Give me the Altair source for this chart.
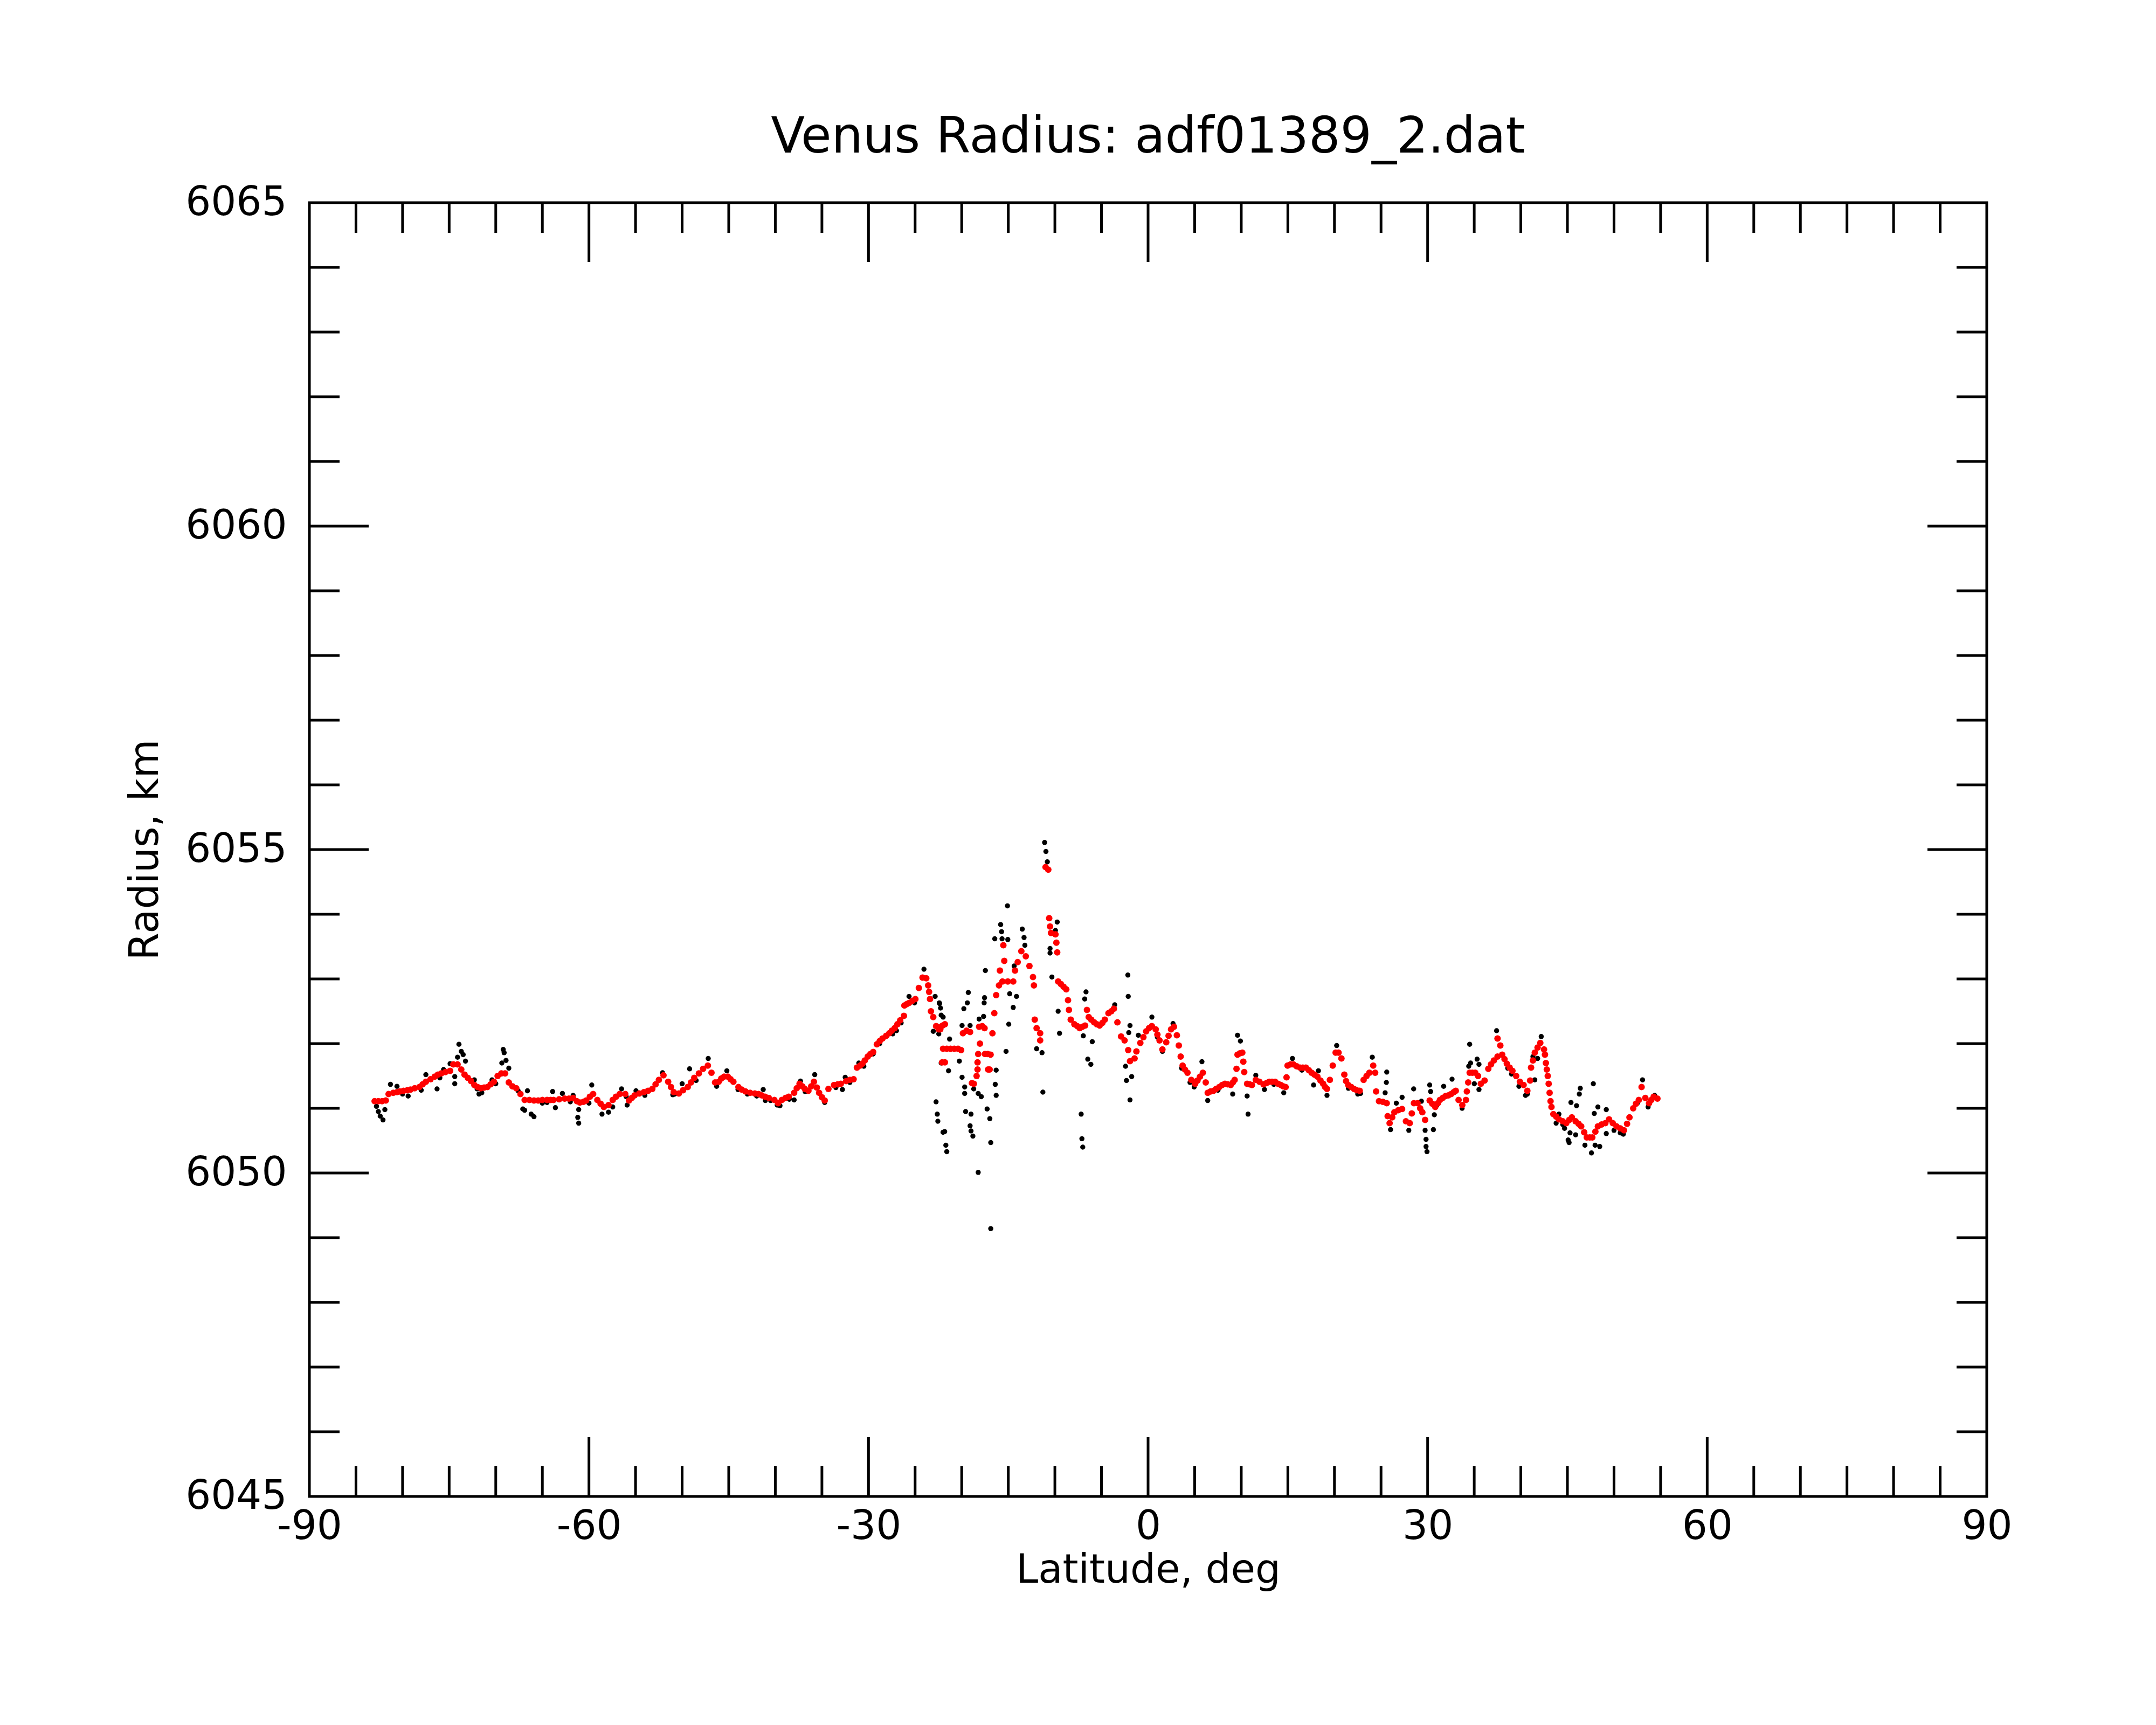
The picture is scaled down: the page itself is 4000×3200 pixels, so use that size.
import altair as alt
import pandas as pd

# ---------------- data ----------------
red_lat = [
    -83.0, -82.6, -82.2, -81.8, -81.5, -81.0, -80.6, -80.3, -79.9, -79.5, -79.15, -78.7, -78.2, -77.85,
    -77.5, -77.0, -76.55, -76.2, -75.85, -75.4, -74.9, -74.55, -74.1, -73.7, -73.35, -73.0, -72.65, -72.3,
    -71.95, -71.6, -71.25, -70.9, -70.55, -70.2, -69.8, -69.4, -69.0, -68.6, -68.2, -67.8, -67.35, -66.9,
    -66.4, -65.9, -65.45, -65.0, -64.5, -64.1, -63.8, -63.2, -62.6, -62.15, -61.7, -61.3, -60.97, -60.6,
    -60.3, -59.9, -59.55, -59.1, -58.75, -58.4, -57.9, -57.45, -57.1, -56.7, -56.1, -55.7, -55.4, -55.1,
    -54.6, -54.1, -53.65, -53.2, -52.85, -52.5, -52.0, -51.5, -51.2, -50.9, -50.35, -49.9, -49.4, -49.05,
    -48.7, -48.2, -47.75, -47.24,
    -46.85, -46.47, -46.08, -45.8, -45.5, -45.1, -44.8, -44.5, -43.96, -43.6, -43.19, -42.7, -42.2, -41.8,
    -41.45, -41.1, -40.7, -40.1, -39.7, -39.3, -38.9, -38.56, -37.98, -37.7, -37.4, -37.1, -36.83, -36.45,
    -36.15, -35.86, -35.55, -35.3, -35.0, -34.7, -34.3, -33.7, -33.3, -32.97, -32.4, -32.0, -31.6, -31.24,
    -30.9, -30.66, -30.4, -30.08, -29.8, -29.5, -29.1, -28.8, -28.5, -28.1, -27.77, -27.5, -27.19, -26.9,
    -26.6, -26.2, -26.15, -25.9, -25.65, -25.3, -24.97, -24.6, -24.2, -23.8, -23.6, -23.5, -23.4, -23.3,
    -23.05, -22.75, -22.46,
    -22.6, -22.3, -22.05, -21.8, -22.1, -21.8, -22.0, -21.6, -21.2, -20.8, -20.4, -20.06, -19.87, -19.48,
    -19.1, -18.13, -17.8, -17.55, -18.04, -18.23, -18.3, -18.3, -18.4, -18.9, -18.7, -17.5, -17.2, -16.9,
    -17.17, -17.0, -16.7, -16.5, -16.3, -16.0, -15.63, -15.9, -15.43, -15.53, -15.05, -14.47, -14.28, -13.99,
    -13.6, -13.12, -12.73, -12.35, -12.25, -12.16, -11.96, -11.58, -11.58, -11.0, -10.71, -10.61, -10.52, -10.42,
    -9.94, -9.84, -9.75, -9.65, -9.35, -9.07, -8.78, -8.59, -8.49, -8.3, -7.91, -7.6, -7.34, -7.05,
    -6.76, -6.56, -6.37, -6.1, -5.79, -5.5, -5.2, -4.9, -4.64, -4.25, -3.95, -3.67, -3.29, -2.9,
    -2.52, -2.13, -1.94, -1.45, -1.25, -0.83, -0.5, -0.21, 0.1, 0.41, 0.82, 1.0, 1.23, 1.54,
    1.95, 2.2, 2.47, 2.78, 3.09, 3.3, 3.5, 3.71, 3.95, 4.23, 4.64, 5.05, 5.3, 5.57,
    5.88, 6.19, 6.4, 6.7, 7.02, 7.3, 7.64, 7.95, 8.25, 8.55, 8.87, 9.1, 9.29, 9.49,
    9.6, 9.85, 10.11, 10.22, 10.32, 10.63, 10.9, 11.15, 11.56, 11.95, 12.39, 12.7, 13.0, 13.3,
    13.63, 13.95, 14.25, 14.5, 14.76, 14.86, 14.97, 15.3, 15.59, 15.95, 16.31, 16.6, 16.93, 17.25,
    17.55, 17.85, 18.17, 18.5, 18.79, 19.0, 19.2, 19.51, 19.82, 20.13, 20.44, 20.75, 21.06, 21.25,
    21.48, 21.8, 22.1, 22.4, 22.71, 23.13, 23.45, 23.75, 24.16, 24.37, 24.47, 24.78, 25.2, 25.61,
    25.71, 25.92, 26.2, 26.43, 26.85, 27.26, 27.67, 28.08, 28.3, 28.53, 28.93, 29.2, 29.43, 29.73,
    30.22, 30.5, 30.82, 31.1, 31.32, 31.62, 31.92, 32.22, 32.52, 32.8, 33.02, 33.32, 33.72, 34.11,
    34.21, 34.35, 34.51, 34.8, 35.11, 35.41, 35.71, 36.11, 36.51, 36.8, 37.11, 37.5, 37.5, 37.8,
    38.0, 38.25, 38.5, 38.8, 39.1, 39.5, 39.9, 40.3, 40.7, 41.0, 41.1, 41.3, 41.5, 41.8,
    42.09, 42.49, 42.59, 42.69, 42.79, 42.89, 42.99, 43.09, 43.19, 43.29, 43.49, 43.8, 44.09, 44.5,
    44.88, 45.2, 45.48, 45.88, 46.2, 46.48, 46.8, 47.08, 47.4, 47.67, 48.0, 48.27, 48.67, 49.07,
    49.47, 49.87, 50.27, 50.67, 51.07, 51.4, 51.66, 52.06, 52.36, 52.66, 52.96, 53.36, 53.76, 54.0,
    54.26, 54.66,
]
red_radius = [
    6051.11, 6051.11, 6051.11, 6051.12, 6051.22, 6051.24, 6051.25, 6051.26, 6051.27, 6051.28, 6051.29, 6051.31, 6051.33, 6051.37,
    6051.41, 6051.45, 6051.49, 6051.52, 6051.54, 6051.56, 6051.58, 6051.68, 6051.68, 6051.60, 6051.52, 6051.47, 6051.42, 6051.36,
    6051.33, 6051.31, 6051.32, 6051.33, 6051.37, 6051.41, 6051.50, 6051.54, 6051.54, 6051.40, 6051.34, 6051.31, 6051.22, 6051.13,
    6051.13, 6051.12, 6051.12, 6051.13, 6051.13, 6051.13, 6051.13, 6051.14, 6051.15, 6051.15, 6051.16, 6051.11, 6051.09, 6051.10,
    6051.12, 6051.18, 6051.22, 6051.13, 6051.07, 6051.02, 6051.05, 6051.13, 6051.18, 6051.22, 6051.22, 6051.12, 6051.16, 6051.20,
    6051.23, 6051.25, 6051.27, 6051.30, 6051.37, 6051.44, 6051.51, 6051.41, 6051.33, 6051.25, 6051.23, 6051.28, 6051.33, 6051.40,
    6051.47, 6051.54, 6051.61, 6051.66,
    6051.55, 6051.40, 6051.41, 6051.46, 6051.49, 6051.49, 6051.45, 6051.41, 6051.33, 6051.29, 6051.26, 6051.24, 6051.23, 6051.22,
    6051.20, 6051.18, 6051.16, 6051.13, 6051.08, 6051.13, 6051.16, 6051.18, 6051.24, 6051.31, 6051.38, 6051.34, 6051.30, 6051.27,
    6051.34, 6051.41, 6051.32, 6051.24, 6051.17, 6051.12, 6051.30, 6051.36, 6051.37, 6051.38, 6051.42, 6051.44, 6051.45, 6051.63,
    6051.66, 6051.69, 6051.74, 6051.80, 6051.84, 6051.87, 6051.99, 6052.04, 6052.08, 6052.12, 6052.16, 6052.20, 6052.24, 6052.30,
    6052.36, 6052.43, 6052.59, 6052.61, 6052.63, 6052.66, 6052.69, 6052.86, 6053.02, 6053.01, 6052.90, 6052.80, 6052.69, 6052.50,
    6052.41, 6052.27, 6052.22,
    6052.26, 6052.22, 6052.28, 6052.30, 6051.71, 6051.71, 6051.92, 6051.92, 6051.92, 6051.92, 6051.92, 6051.90, 6052.16, 6052.20,
    6052.18, 6052.26, 6052.27, 6052.24, 6052.00, 6051.84, 6051.71, 6051.60, 6051.50, 6051.39, 6051.38, 6051.84, 6051.84, 6051.83,
    6051.60, 6051.60, 6052.16, 6052.47, 6052.75, 6052.90, 6052.96, 6053.13, 6053.28, 6053.52, 6052.96, 6052.96, 6053.13, 6053.26,
    6053.43, 6053.35, 6053.20, 6053.03, 6052.90, 6052.37, 6052.24, 6052.16, 6052.05, 6054.73, 6054.69, 6053.94, 6053.81, 6053.71,
    6053.69, 6053.56, 6053.41, 6052.96, 6052.92, 6052.88, 6052.84, 6052.67, 6052.52, 6052.37, 6052.30, 6052.27, 6052.24, 6052.26,
    6052.28, 6052.52, 6052.41, 6052.37, 6052.33, 6052.30, 6052.28, 6052.32, 6052.37, 6052.47, 6052.50, 6052.54, 6052.33, 6052.11,
    6052.05, 6051.90, 6051.73, 6051.77, 6051.88, 6052.01, 6052.10, 6052.19, 6052.24, 6052.27, 6052.22, 6052.14, 6052.05, 6051.91,
    6052.02, 6052.12, 6052.22, 6052.26, 6052.13, 6051.97, 6051.80, 6051.66, 6051.60, 6051.55, 6051.44, 6051.38, 6051.43, 6051.49,
    6051.55, 6051.40, 6051.24, 6051.26, 6051.27, 6051.30, 6051.33, 6051.36, 6051.38, 6051.37, 6051.36, 6051.40, 6051.44, 6051.61,
    6051.83, 6051.85, 6051.86, 6051.72, 6051.56, 6051.38, 6051.37, 6051.36, 6051.44, 6051.41, 6051.37, 6051.39, 6051.41, 6051.41,
    6051.41, 6051.38, 6051.36, 6051.34, 6051.33, 6051.48, 6051.66, 6051.68, 6051.68, 6051.65, 6051.63, 6051.63, 6051.63, 6051.59,
    6051.55, 6051.52, 6051.49, 6051.43, 6051.38, 6051.33, 6051.30, 6051.44, 6051.66, 6051.86, 6051.86, 6051.77, 6051.52, 6051.42,
    6051.36, 6051.33, 6051.30, 6051.28, 6051.27, 6051.44, 6051.50, 6051.55, 6051.66, 6051.55, 6051.26, 6051.11, 6051.10, 6051.08,
    6050.88, 6050.77, 6050.86, 6050.94, 6050.97, 6050.99, 6050.80, 6050.77, 6050.92, 6051.08, 6051.08, 6051.00, 6050.94, 6050.82,
    6051.12, 6051.07, 6051.02, 6051.08, 6051.13, 6051.16, 6051.19, 6051.20, 6051.22, 6051.25, 6051.27, 6051.13, 6051.05, 6051.13,
    6051.26, 6051.40, 6051.55, 6051.55, 6051.55, 6051.50, 6051.38, 6051.43, 6051.61, 6051.68, 6051.74, 6051.80, 6052.08, 6051.97,
    6051.83, 6051.76, 6051.69, 6051.63, 6051.58, 6051.50, 6051.41, 6051.36, 6051.27, 6051.43, 6051.63, 6051.74, 6051.86, 6051.94,
    6052.01, 6051.91, 6051.83, 6051.70, 6051.60, 6051.50, 6051.38, 6051.24, 6051.11, 6051.02, 6050.91, 6050.87, 6050.83, 6050.80,
    6050.77, 6050.82, 6050.86, 6050.80, 6050.76, 6050.72, 6050.63, 6050.55, 6050.55, 6050.55, 6050.64, 6050.72, 6050.75, 6050.77,
    6050.83, 6050.77, 6050.72, 6050.69, 6050.66, 6050.76, 6050.86, 6051.00, 6051.07, 6051.13, 6051.33, 6051.16, 6051.08, 6051.13,
    6051.18, 6051.15,
]

black_lat = [
    -82.8, -82.6, -82.4, -82.1, -81.9, -81.3, -80.6, -80.0, -79.4, -78.0, -77.5, -76.3, -76.0, -75.6,
    -74.9, -74.4, -74.4, -73.95, -73.7, -73.5, -73.25, -74.1, -72.3, -72.0, -71.8, -71.5, -70.4, -70.0,
    -69.2, -69.1, -68.9, -69.35, -68.6, -67.6, -67.1, -66.9, -66.2, -65.9, -66.6, -65.0, -64.5, -63.9,
    -63.6, -62.85, -62.0, -61.7, -61.1, -61.2, -61.1, -60.0, -59.7, -58.6, -57.9, -57.45, -56.5, -56.0,
    -55.9, -54.95, -54.0, -52.1, -51.0, -50.8, -50.0, -49.2, -48.5, -47.2,
    -46.3, -45.2, -44.0, -43.0, -42.0, -41.3, -41.07, -40.5, -39.8, -39.5, -38.5, -37.98, -37.3, -36.8,
    -35.77, -34.7, -33.5, -32.8, -32.5, -32.0, -31.04, -30.5, -29.5, -28.8, -27.4, -27.0, -26.5, -25.65,
    -25.06, -24.05,
    -22.85, -22.4, -22.27, -22.2, -23.05, -22.46, -22.2, -22.75, -22.62, -22.56, -22.0, -22.37, -21.99, -21.3,
    -21.41, -21.83, -21.7, -21.6, -19.29, -19.39, -19.77, -19.96, -19.1, -20.25, -19.96, -19.68, -19.68, -19.58,
    -19.0, -19.1, -19.0, -18.8, -18.71, -18.23, -17.9, -18.23, -17.55, -17.59, -17.46, -17.65, -18.13, -17.27,
    -16.98, -16.88, -16.4, -16.3, -16.3, -16.88, -15.24, -14.95, -14.47, -14.12, -14.85, -14.37, -15.09, -15.82,
    -15.72, -16.45, -15.05, -15.67, -13.5, -13.31, -13.22, -11.1, -10.96, -10.81, -11.96, -11.38, -11.29, -10.52,
    -10.52, -9.75, -9.94, -10.32, -9.65, -9.5, -7.18, -7.1, -7.01, -6.66, -6.8, -6.95, -6.47, -6.14,
    -5.99, -3.58, -2.17, -2.13, -1.94, -2.07, -2.42, -2.32, -1.94, -1.76,
    -1.04, 0.41, 1.0, 1.54, 2.68, 3.6, 4.5, 4.95, 5.78, 6.4, 7.5, 9.08, 9.6, 9.91,
    10.63, 10.73, 11.56, 12.49, 13.5, 14.56, 15.49, 16.5, 17.76, 18.28, 19.2, 20.24, 21.5, 22.5,
    22.8, 24.06, 25.61, 25.57, 25.44, 26.02, 26.64, 27.26, 27.98, 28.5, 29.33,
    29.73, 29.83, 29.83, 29.93, 30.22, 30.32, 30.62, 30.72, 31.0, 31.72, 32.62, 33.7, 34.51, 34.41,
    34.61, 35.31, 35.51, 35.01, 35.51, 37.4, 38.6, 39.0, 39.8, 40.5, 40.7, 41.5, 41.3, 41.8,
    42.19, 44.09, 43.79, 44.5, 44.69, 45.28, 45.08, 45.18, 45.38, 45.98, 46.28, 46.38, 45.88, 46.88,
    47.58, 47.97, 48.47, 47.78, 47.88, 48.27, 49.17, 49.17, 50.0, 50.67, 51.0, 52.5, 53.06, 53.66,
    54.36,
]
black_radius = [
    6051.03, 6050.95, 6050.88, 6050.82, 6050.98, 6051.37, 6051.34, 6051.22, 6051.19, 6051.28, 6051.52, 6051.30, 6051.47, 6051.60,
    6051.69, 6051.38, 6051.49, 6051.99, 6051.88, 6051.83, 6051.73, 6051.79, 6051.44, 6051.30, 6051.22, 6051.24, 6051.44, 6051.38,
    6051.91, 6051.86, 6051.74, 6051.70, 6051.62, 6051.27, 6050.99, 6050.97, 6050.91, 6050.87, 6051.27, 6051.08, 6051.09, 6051.26,
    6051.01, 6051.23, 6051.10, 6051.20, 6050.98, 6050.86, 6050.77, 6051.08, 6051.36, 6050.91, 6050.94, 6051.02, 6051.30, 6051.18,
    6051.05, 6051.27, 6051.20, 6051.55, 6051.21, 6051.22, 6051.38, 6051.61, 6051.43, 6051.77,
    6051.34, 6051.58, 6051.29, 6051.22, 6051.19, 6051.29, 6051.12, 6051.12, 6051.05, 6051.04, 6051.14, 6051.13, 6051.42, 6051.26,
    6051.52, 6051.09, 6051.32, 6051.29, 6051.48, 6051.40, 6051.70, 6051.65, 6051.84, 6052.00, 6052.15, 6052.20, 6052.32, 6052.73,
    6052.63, 6053.15,
    6052.73, 6052.63, 6052.55, 6052.44, 6052.19, 6052.15, 6051.70, 6051.10, 6050.91, 6050.80, 6050.63, 6052.62, 6052.41, 6052.07,
    6051.58, 6050.64, 6050.43, 6050.33, 6052.79, 6052.63, 6052.54, 6052.28, 6052.28, 6051.73, 6051.48, 6051.33, 6051.23, 6050.95,
    6050.91, 6050.73, 6050.65, 6050.57, 6051.30, 6051.23, 6051.18, 6050.01, 6052.71, 6052.63, 6053.13, 6052.42, 6052.38, 6050.99,
    6050.84, 6050.47, 6051.37, 6051.20, 6051.59, 6049.14, 6051.88, 6052.30, 6052.56, 6052.73, 6052.77, 6053.20, 6054.13, 6053.84,
    6053.73, 6053.62, 6053.61, 6053.62, 6053.77, 6053.64, 6053.52, 6055.11, 6054.97, 6054.81, 6051.92, 6051.86, 6051.25, 6053.47,
    6053.40, 6053.88, 6053.75, 6053.03, 6052.50, 6052.16, 6050.91, 6050.53, 6050.40, 6052.80, 6052.69, 6052.12, 6051.76, 6051.68,
    6052.03, 6052.60, 6053.06, 6052.73, 6052.28, 6052.17, 6051.65, 6051.43, 6051.13, 6051.49,
    6052.13, 6052.41, 6052.10, 6051.88, 6052.31, 6051.62, 6051.40, 6051.33, 6051.72, 6051.12, 6051.28, 6051.22, 6052.13, 6052.04,
    6051.19, 6050.91, 6051.51, 6051.29, 6051.37, 6051.24, 6051.77, 6051.59, 6051.36, 6051.58, 6051.20, 6051.97, 6051.31, 6051.22,
    6051.23, 6051.79, 6051.56, 6051.40, 6051.24, 6050.67, 6051.08, 6051.17, 6050.66, 6051.30, 6051.11,
    6050.66, 6050.52, 6050.41, 6050.33, 6051.36, 6051.26, 6050.67, 6050.90, 6051.05, 6051.34, 6051.45, 6051.00, 6051.99, 6051.65,
    6051.70, 6051.76, 6051.68, 6051.38, 6051.29, 6052.20, 6051.62, 6051.53, 6051.34, 6051.20, 6051.22, 6051.44, 6051.80, 6051.77,
    6052.11, 6050.91, 6050.77, 6050.75, 6050.69, 6050.62, 6050.51, 6050.47, 6051.09, 6051.04, 6051.22, 6051.31, 6050.59, 6050.43,
    6050.31, 6050.43, 6050.41, 6051.38, 6050.92, 6051.02, 6050.98, 6050.61, 6050.66, 6050.62, 6050.60, 6051.08, 6051.44, 6051.02,
    6051.20,
]

x_label_values = [-90, -60, -30, 0, 30, 60, 90]
y_label_values = [6045, 6050, 6055, 6060, 6065]
x_minor_ticks = [v for v in range(-85, 90, 5) if v % 30 != 0]
x_major_ticks = [-60, -30, 0, 30, 60]
y_minor_ticks = [v for v in range(6046, 6065) if v % 5 != 0]
y_major_ticks = [6050, 6055, 6060]

# ---------------- layout ----------------
W, H = 3112, 2400
MAJOR, MINOR = 110, 56
FONT = "DejaVu Sans"

red_df = pd.DataFrame({"lat": red_lat, "radius": red_radius})
black_df = pd.DataFrame({"lat": black_lat, "radius": black_radius})

xscale = alt.Scale(domain=[-90, 90], nice=False, zero=False)
yscale = alt.Scale(domain=[6045, 6065], nice=False, zero=False)

xaxis = alt.Axis(
    values=x_label_values, ticks=False, domain=False, grid=False, labelFlush=False,
    labelExpr="datum.value + ''", labelLimit=1000,
    labelFont=FONT, labelFontSize=74, labelColor="black", labelPadding=78,
    labelBaseline="alphabetic", labelOverlap=False,
    title="Latitude, deg", titleFont=FONT, titleFontSize=74, titleFontWeight="normal",
    titleColor="black", titleBaseline="alphabetic", titleY=159, titleX=W / 2,
)
yaxis = alt.Axis(
    values=y_label_values, ticks=False, domain=False, grid=False, labelFlush=False,
    labelExpr="datum.value + ''", labelLimit=1000,
    labelFont=FONT, labelFontSize=74, labelColor="black", labelPadding=42,
    labelBaseline="middle", labelOverlap=False,
    title="Radius, km", titleFont=FONT, titleFontSize=74, titleFontWeight="normal",
    titleColor="black", titleBaseline="alphabetic", titleX=-282, titleY=H / 2,
    titleAlign="center",
)

black_pts = alt.Chart(black_df).mark_circle(size=90, color="black", opacity=1).encode(
    x=alt.X("lat:Q", scale=xscale, axis=xaxis),
    y=alt.Y("radius:Q", scale=yscale, axis=yaxis),
)
red_pts = alt.Chart(red_df).mark_circle(size=145, color="#ff0000", opacity=1).encode(
    x=alt.X("lat:Q", scale=xscale),
    y=alt.Y("radius:Q", scale=yscale),
)


def xticks(vals, length):
    df = pd.DataFrame({"v": vals})
    bottom = alt.Chart(df).mark_rule(color="black", strokeWidth=5).encode(
        x=alt.X("v:Q", scale=xscale), y=alt.value(H), y2=alt.value(H - length))
    top = alt.Chart(df).mark_rule(color="black", strokeWidth=5).encode(
        x=alt.X("v:Q", scale=xscale), y=alt.value(0), y2=alt.value(length))
    return [bottom, top]


def yticks(vals, length):
    df = pd.DataFrame({"v": vals})
    left = alt.Chart(df).mark_rule(color="black", strokeWidth=5).encode(
        y=alt.Y("v:Q", scale=yscale), x=alt.value(0), x2=alt.value(length))
    right = alt.Chart(df).mark_rule(color="black", strokeWidth=5).encode(
        y=alt.Y("v:Q", scale=yscale), x=alt.value(W), x2=alt.value(W - length))
    return [left, right]


layers = [black_pts, red_pts]
layers += xticks(x_minor_ticks, MINOR) + xticks(x_major_ticks, MAJOR)
layers += yticks(y_minor_ticks, MINOR) + yticks(y_major_ticks, MAJOR)

chart = alt.layer(*layers).properties(
    width=W,
    height=H,
    title=alt.TitleParams(
        "Venus Radius: adf01389_2.dat", font=FONT, fontSize=92, fontWeight="normal",
        color="black", anchor="middle", baseline="alphabetic", offset=94, dy=130,
    ),
    autosize=alt.AutoSizeParams(type="none"),
    padding={"left": 566, "top": 368, "right": 300, "bottom": 400},
    background="white",
).configure_view(stroke="black", strokeWidth=5)

chart.save("out.html", embed_options={"renderer": "svg", "actions": False})
